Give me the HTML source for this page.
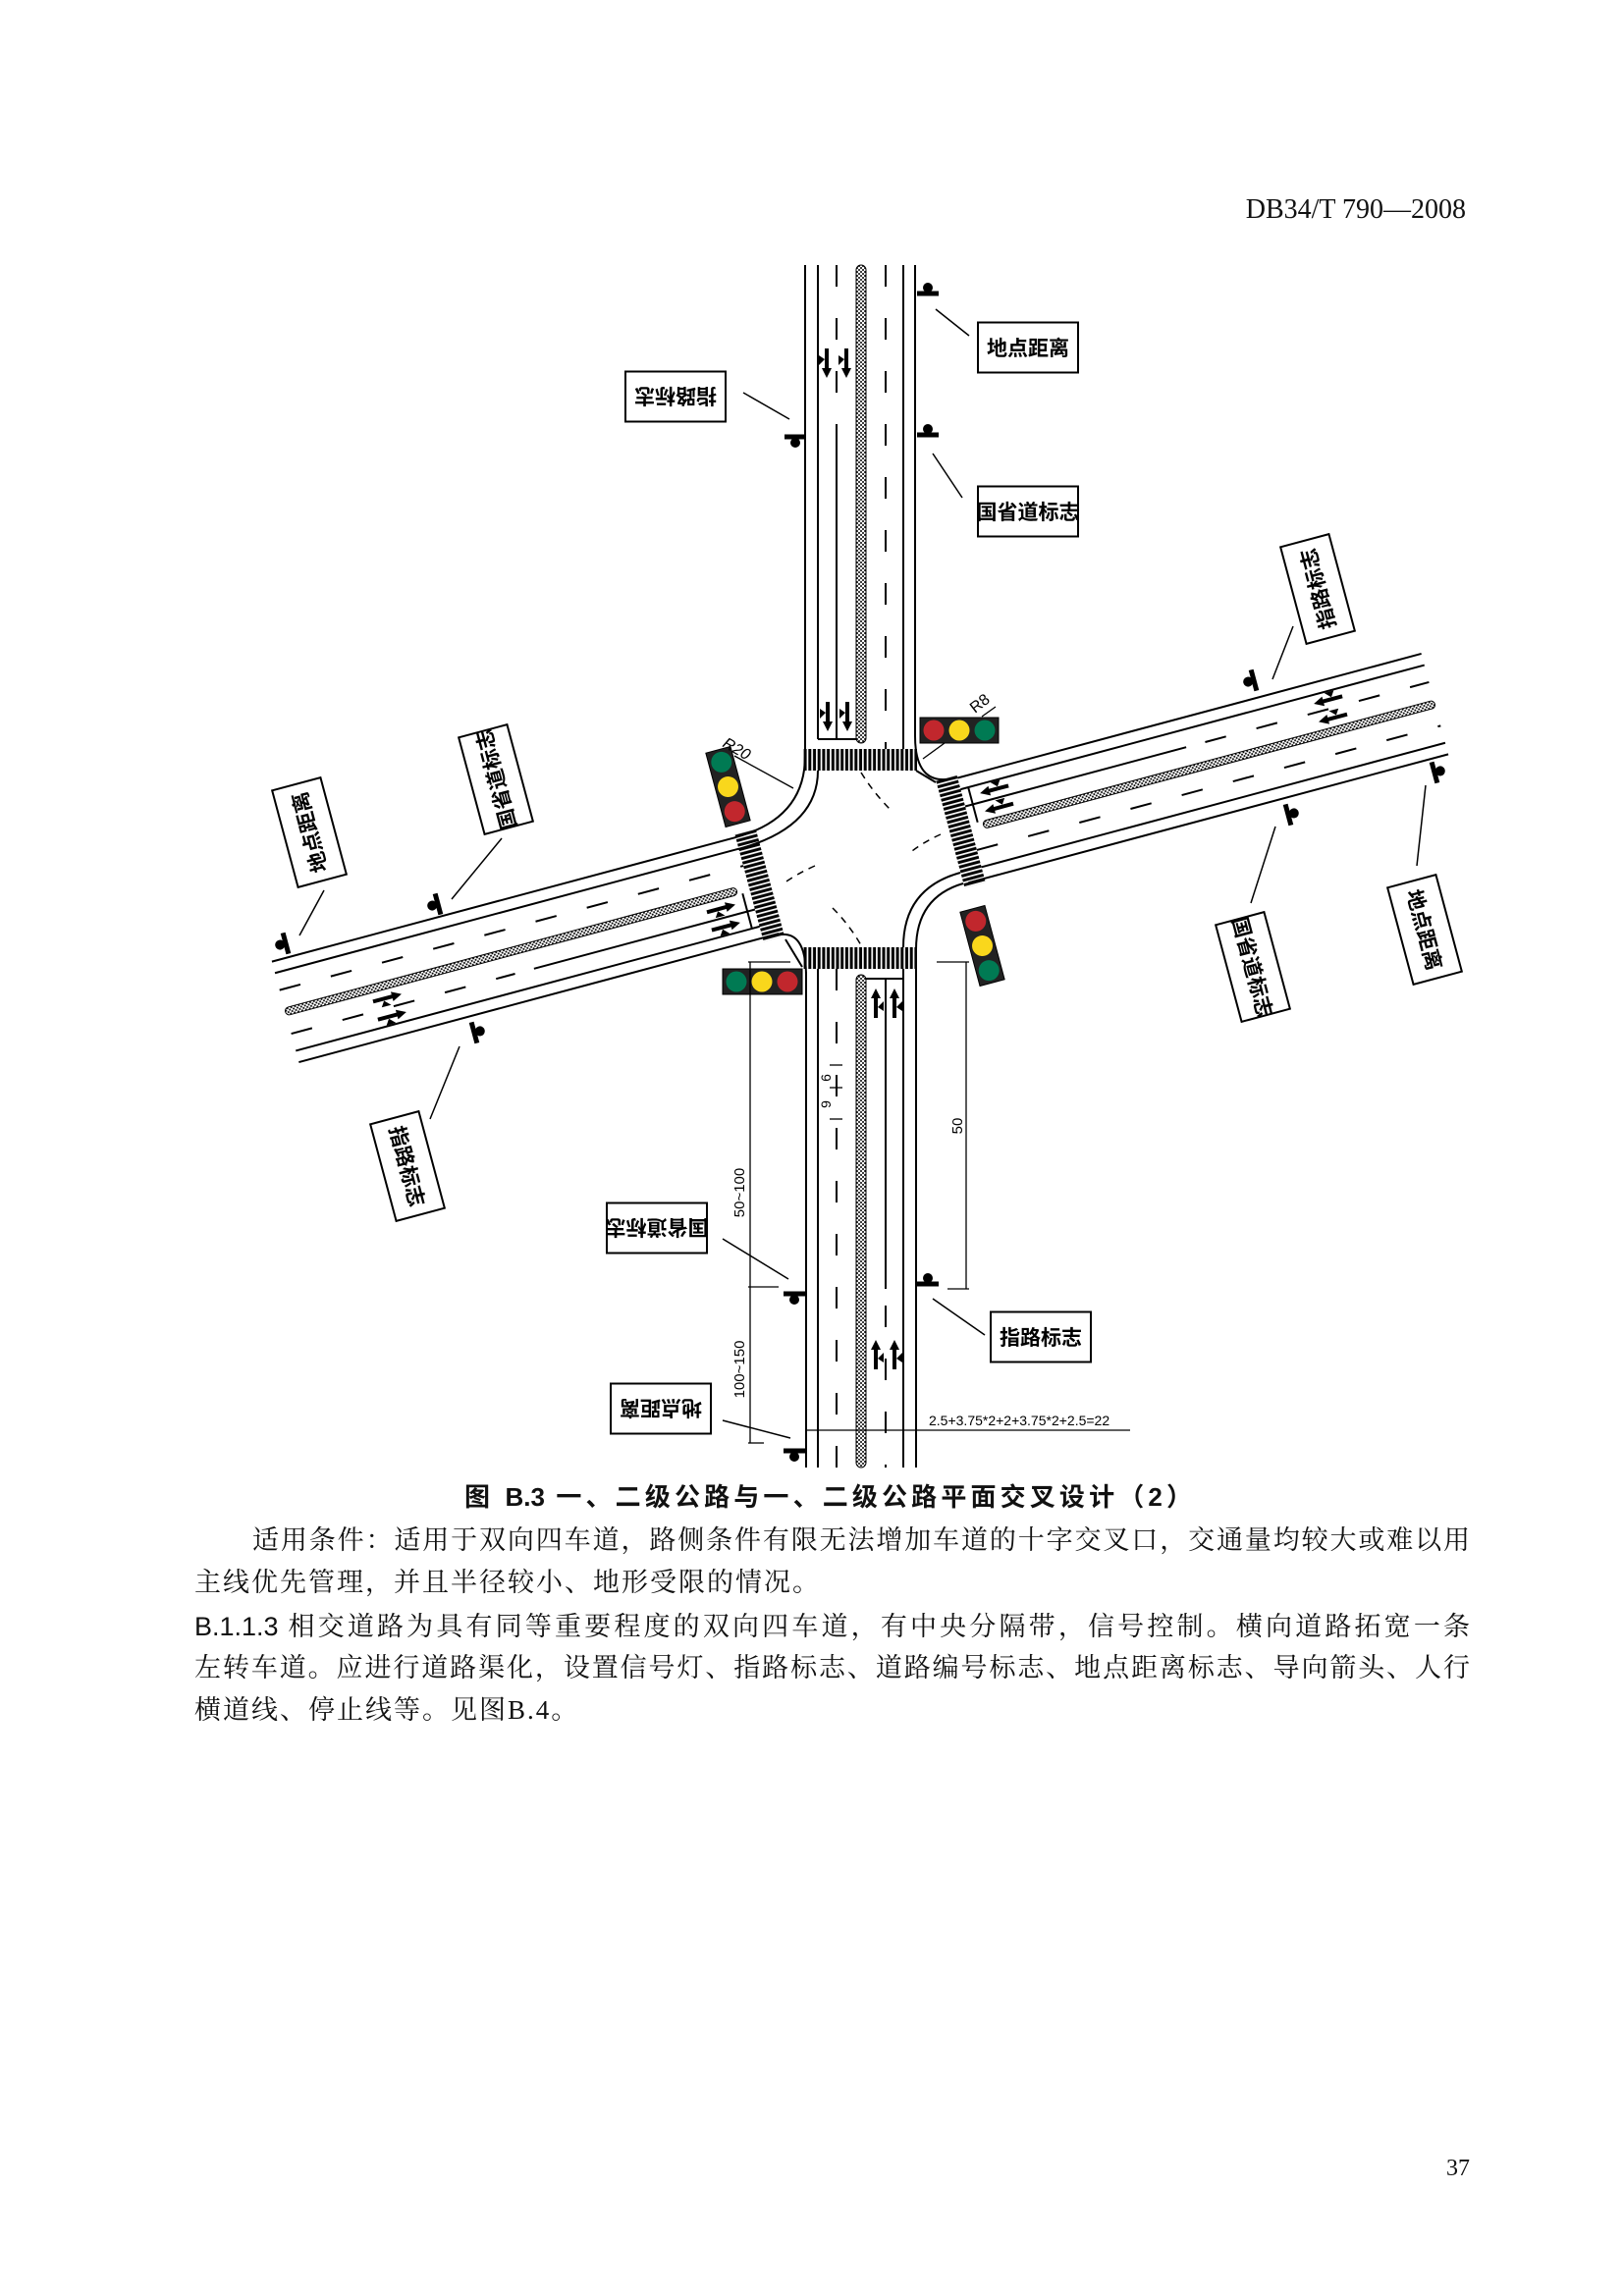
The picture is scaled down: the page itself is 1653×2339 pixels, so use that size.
<!DOCTYPE html>
<html><head><meta charset="utf-8">
<style>
html,body{margin:0;padding:0;background:#fff;}
body{width:1653px;height:2339px;position:relative;overflow:hidden;}
.t{position:absolute;white-space:nowrap;font-family:"Liberation Serif","Noto Serif CJK SC",serif;font-size:27px;line-height:30px;color:#111;}
.j{text-align:justify;text-align-last:justify;}
svg{position:absolute;left:0;top:0;}
</style></head><body>
<svg width="1653" height="2339" viewBox="0 0 1653 2339" xmlns="http://www.w3.org/2000/svg">
<defs>
<pattern id="dots" width="4" height="4" patternUnits="userSpaceOnUse">
<rect width="4" height="4" fill="#fff"/><circle cx="1" cy="1" r="1" fill="#000"/><circle cx="3" cy="3" r="1" fill="#000"/>
</pattern>
<pattern id="cwv" width="4.7" height="30" patternUnits="userSpaceOnUse"><rect x="0.8" width="3" height="30" fill="#000"/></pattern>
<pattern id="cwh" width="30" height="4.7" patternUnits="userSpaceOnUse"><rect y="0.8" width="30" height="3" fill="#000"/></pattern>
<g id="arr"><path d="M0,-15 L-5,-5 L-2,-5 L-2,15 L2,15 L2,-5 L5,-5 Z" fill="#000"/><path d="M2,4 L8,-2 L8,8 Z" fill="#000"/></g>
<g id="post"><rect x="-11" y="-2.5" width="22" height="5" fill="#000"/><circle cx="0" cy="-6" r="5" fill="#000"/></g>
</defs>
<g stroke="#000" stroke-width="2" fill="none">
<line x1="820" y1="270" x2="820" y2="770"/>
<line x1="833" y1="270" x2="833" y2="753"/>
<line x1="852" y1="270" x2="852" y2="437" stroke-dasharray="22 32"/>
<line x1="852" y1="437" x2="852" y2="753"/>
<line x1="902" y1="270" x2="902" y2="763" stroke-dasharray="22 32"/>
<line x1="920" y1="270" x2="920" y2="763"/>
<line x1="932" y1="270" x2="932" y2="750"/>
<line x1="833" y1="753" x2="872" y2="753"/>
<line x1="821" y1="990" x2="821" y2="1495"/>
<line x1="833" y1="987" x2="833" y2="1495"/>
<line x1="852" y1="987" x2="852" y2="1495" stroke-dasharray="22 32"/>
<line x1="902" y1="997" x2="902" y2="1313"/>
<line x1="902" y1="1330" x2="902" y2="1495" stroke-dasharray="22 32"/>
<line x1="920" y1="987" x2="920" y2="1495"/>
<line x1="933" y1="967" x2="933" y2="1495"/>
<line x1="882" y1="997" x2="920" y2="997"/>
<path d="M932,750 Q932,804 975,792"/>
<path d="M820,770 Q820,834 749,853"/>
<path d="M833,785 Q833,843 752,865"/>
<path d="M981,900 Q933,914 933,967"/>
<path d="M978,889 Q920,905 920,965"/>
<path d="M790,953 Q821,945 821,995"/>
<path d="M800,957 L817,985"/>
<path d="M933,785 L953,797"/>
<g stroke-width="1.5" stroke-dasharray="7 6">
<path d="M877,787 Q890,808 907,825"/>
<path d="M958,850 Q940,858 925,870"/>
<path d="M830,882 Q812,890 798,900"/>
<path d="M848,925 Q865,942 877,963"/>
</g>
</g>
<rect x="872" y="270" width="10" height="487" rx="5" fill="url(#dots)" stroke="#000" stroke-width="1"/>
<rect x="872" y="993" width="10" height="502" rx="5" fill="url(#dots)" stroke="#000" stroke-width="1"/>
<rect x="817" y="763" width="117" height="22" fill="url(#cwv)"/>
<rect x="817" y="965" width="117" height="22" fill="url(#cwv)"/>
<g transform="translate(876,874) rotate(-15)">
<g stroke="#000" stroke-width="2" fill="none">
<line x1="117" y1="-53" x2="606" y2="-53"/>
<line x1="117" y1="-41" x2="606" y2="-41"/>
<line x1="117" y1="-23" x2="350" y2="-23"/>
<line x1="370" y1="-23" x2="606" y2="-23" stroke-dasharray="22 32"/>
<line x1="117" y1="23" x2="606" y2="23" stroke-dasharray="22 32"/>
<line x1="117" y1="41" x2="606" y2="41"/>
<line x1="100" y1="53" x2="606" y2="53"/>
<line x1="125" y1="-41" x2="125" y2="-4"/>
<line x1="-606" y1="-53" x2="-117" y2="-53"/>
<line x1="-606" y1="-41" x2="-117" y2="-41"/>
<line x1="-606" y1="-23" x2="-117" y2="-23" stroke-dasharray="22 32"/>
<line x1="-350" y1="23" x2="-117" y2="23"/>
<line x1="-606" y1="23" x2="-370" y2="23" stroke-dasharray="22 32"/>
<line x1="-606" y1="41" x2="-117" y2="41"/>
<line x1="-606" y1="53" x2="-100" y2="53"/>
<line x1="-125" y1="4" x2="-125" y2="41"/>
</g>
<rect x="130" y="-4" width="476" height="8" rx="4" fill="url(#dots)" stroke="#000" stroke-width="1"/>
<rect x="-606" y="-4" width="476" height="8" rx="4" fill="url(#dots)" stroke="#000" stroke-width="1"/>
<rect x="95" y="-57" width="22" height="114" fill="url(#cwh)"/>
<rect x="-117" y="-57" width="22" height="114" fill="url(#cwh)"/>
<use href="#arr" transform="translate(150,-32) rotate(-90)"/>
<use href="#arr" transform="translate(150,-13) rotate(-90)"/>
<use href="#arr" transform="translate(502,-32) rotate(-90)"/>
<use href="#arr" transform="translate(502,-13) rotate(-90)"/>
<use href="#arr" transform="translate(-150,13) rotate(90)"/>
<use href="#arr" transform="translate(-150,32) rotate(90)"/>
<use href="#arr" transform="translate(-502,13) rotate(90)"/>
<use href="#arr" transform="translate(-502,32) rotate(90)"/>
</g>
<use href="#arr" transform="translate(842,370) rotate(180)"/>
<use href="#arr" transform="translate(862,370) rotate(180)"/>
<use href="#arr" transform="translate(843,730) rotate(180)"/>
<use href="#arr" transform="translate(863,730) rotate(180)"/>
<use href="#arr" transform="translate(892,1022)"/>
<use href="#arr" transform="translate(911,1022)"/>
<use href="#arr" transform="translate(892,1380)"/>
<use href="#arr" transform="translate(911,1380)"/>
<g>
<rect x="937" y="731" width="80" height="26" fill="#222" stroke="#000"/>
<circle cx="951" cy="744" r="10.5" fill="#c1272d"/><circle cx="977" cy="744" r="10.5" fill="#f9d71c"/><circle cx="1003" cy="744" r="10.5" fill="#007a53"/>
</g>
<g>
<rect x="736" y="987" width="81" height="26" fill="#222" stroke="#000"/>
<circle cx="750" cy="1000" r="10.5" fill="#007a53"/><circle cx="776" cy="1000" r="10.5" fill="#f9d71c"/><circle cx="802" cy="1000" r="10.5" fill="#c1272d"/>
</g>
<g transform="translate(741.5,801.5) rotate(-15)">
<rect x="-13" y="-39" width="26" height="78" fill="#222" stroke="#000"/>
<circle cx="0" cy="-26" r="10.5" fill="#007a53"/><circle cx="0" cy="0" r="10.5" fill="#f9d71c"/><circle cx="0" cy="26" r="10.5" fill="#c1272d"/>
</g>
<g transform="translate(1000.5,963.5) rotate(-15)">
<rect x="-13" y="-39" width="26" height="78" fill="#222" stroke="#000"/>
<circle cx="0" cy="-26" r="10.5" fill="#c1272d"/><circle cx="0" cy="0" r="10.5" fill="#f9d71c"/><circle cx="0" cy="26" r="10.5" fill="#007a53"/>
</g>
<g stroke="#000" stroke-width="1.3">
<line x1="748" y1="770" x2="808" y2="803"/>
<line x1="962" y1="757" x2="940" y2="773"/>
<line x1="1000" y1="730" x2="1014" y2="720"/>
</g>
<text x="0" y="0" font-family="Liberation Sans,sans-serif" font-size="16" font-style="italic" transform="translate(735,760) rotate(30)">R20</text>
<text x="0" y="0" font-family="Liberation Sans,sans-serif" font-size="16" transform="translate(993,727) rotate(-38)">R8</text>
<use href="#post" transform="translate(945,299)"/>
<use href="#post" transform="translate(945,443)"/>
<use href="#post" transform="translate(810,445) rotate(180)"/>
<use href="#post" transform="translate(1277,693) rotate(-105)"/>
<use href="#post" transform="translate(1312,830) rotate(75)"/>
<use href="#post" transform="translate(1461,787) rotate(75)"/>
<use href="#post" transform="translate(291,961) rotate(-105)"/>
<use href="#post" transform="translate(446,921) rotate(-105)"/>
<use href="#post" transform="translate(483,1052) rotate(75)"/>
<use href="#post" transform="translate(809,1318) rotate(180)"/>
<use href="#post" transform="translate(809,1478) rotate(180)"/>
<use href="#post" transform="translate(945,1308)"/>
<g stroke="#000" stroke-width="1.5">
<line x1="953" y1="315" x2="987" y2="342"/>
<line x1="950" y1="462" x2="980" y2="507"/>
<line x1="757" y1="400" x2="804" y2="427"/>
<line x1="1317" y1="638" x2="1296" y2="692"/>
<line x1="1299" y1="842" x2="1274" y2="920"/>
<line x1="1452" y1="800" x2="1443" y2="882"/>
<line x1="330" y1="907" x2="305" y2="953"/>
<line x1="511" y1="854" x2="460" y2="916"/>
<line x1="468" y1="1066" x2="438" y2="1140"/>
<line x1="736" y1="1262" x2="803" y2="1303"/>
<line x1="736" y1="1447" x2="805" y2="1465"/>
<line x1="950" y1="1323" x2="1003" y2="1360"/>
</g>
<g stroke="#000" stroke-width="1.3">
<line x1="764" y1="980" x2="764" y2="1470"/>
<line x1="984" y1="980" x2="984" y2="1313"/>
<line x1="762" y1="980" x2="805" y2="980"/>
<line x1="954" y1="980" x2="987" y2="980"/>
<line x1="762" y1="1311" x2="793" y2="1311"/>
<line x1="762" y1="1470" x2="778" y2="1470"/>
<line x1="965" y1="1313" x2="987" y2="1313"/>
<line x1="820" y1="1457" x2="1151" y2="1457"/>
<line x1="845" y1="1085" x2="858" y2="1085"/>
<line x1="845" y1="1108" x2="858" y2="1108"/>
<line x1="845" y1="1140" x2="858" y2="1140"/>
</g>
<g font-family="Liberation Sans,sans-serif" font-size="15" fill="#000">
<text transform="translate(758,1215) rotate(-90)" text-anchor="middle">50~100</text>
<text transform="translate(758,1395) rotate(-90)" text-anchor="middle">100~150</text>
<text transform="translate(980,1147) rotate(-90)" text-anchor="middle">50</text>
<text x="946" y="1452" font-size="14">2.5+3.75*2+2+3.75*2+2.5=22</text>
<text transform="translate(846,1098) rotate(-90)" text-anchor="middle" font-size="14">6</text>
<text transform="translate(846,1125) rotate(-90)" text-anchor="middle" font-size="14">9</text>
</g>
<g font-family="Liberation Sans,Noto Sans CJK SC,sans-serif" font-weight="700" font-size="21" text-anchor="middle" fill="#000">
<g transform="translate(1047,354)"><rect x="-51" y="-25.5" width="102" height="51" fill="#fff" stroke="#000" stroke-width="2"/><text y="8">地点距离</text></g>
<g transform="translate(1047,521)"><rect x="-51" y="-25.5" width="102" height="51" fill="#fff" stroke="#000" stroke-width="2"/><text y="8">国省道标志</text></g>
<g transform="translate(688,404) rotate(180)"><rect x="-51" y="-25.5" width="102" height="51" fill="#fff" stroke="#000" stroke-width="2"/><text y="8">指路标志</text></g>
<g transform="translate(1342,600) rotate(-105)"><rect x="-51" y="-25.5" width="102" height="51" fill="#fff" stroke="#000" stroke-width="2"/><text y="8">指路标志</text></g>
<g transform="translate(1276,985) rotate(75)"><rect x="-51" y="-25.5" width="102" height="51" fill="#fff" stroke="#000" stroke-width="2"/><text y="8">国省道标志</text></g>
<g transform="translate(1451,947) rotate(75)"><rect x="-51" y="-25.5" width="102" height="51" fill="#fff" stroke="#000" stroke-width="2"/><text y="8">地点距离</text></g>
<g transform="translate(315,848) rotate(-105)"><rect x="-51" y="-25.5" width="102" height="51" fill="#fff" stroke="#000" stroke-width="2"/><text y="8">地点距离</text></g>
<g transform="translate(505,794) rotate(-105)"><rect x="-51" y="-25.5" width="102" height="51" fill="#fff" stroke="#000" stroke-width="2"/><text y="8">国省道标志</text></g>
<g transform="translate(415,1188) rotate(75)"><rect x="-51" y="-25.5" width="102" height="51" fill="#fff" stroke="#000" stroke-width="2"/><text y="8">指路标志</text></g>
<g transform="translate(669,1251) rotate(180)"><rect x="-51" y="-25.5" width="102" height="51" fill="#fff" stroke="#000" stroke-width="2"/><text y="8">国省道标志</text></g>
<g transform="translate(673,1435) rotate(180)"><rect x="-51" y="-25.5" width="102" height="51" fill="#fff" stroke="#000" stroke-width="2"/><text y="8">地点距离</text></g>
<g transform="translate(1060,1362)"><rect x="-51" y="-25.5" width="102" height="51" fill="#fff" stroke="#000" stroke-width="2"/><text y="8">指路标志</text></g>
</g>
</svg>

<div class="t" style="left:1200px;top:198px;width:293px;text-align:right;font-size:28px;line-height:32px;">DB34/T 790—2008</div>

<div class="t j" style="left:473px;top:1510px;width:741px;font-family:'Liberation Sans','Noto Sans CJK SC',sans-serif;font-weight:700;font-size:26px;">图 B.3 一、二级公路与一、二级公路平面交叉设计（2）</div>

<div class="t j" style="left:257px;top:1554px;width:1240px;">适用条件：适用于双向四车道，路侧条件有限无法增加车道的十字交叉口，交通量均较大或难以用</div>
<div class="t" style="left:198px;top:1597px;letter-spacing:2px;">主线优先管理，并且半径较小、地形受限的情况。</div>
<div class="t j" style="left:198px;top:1642px;width:1299px;"><span style="font-family:'Liberation Sans',sans-serif;">B.1.1.3</span>  相交道路为具有同等重要程度的双向四车道，有中央分隔带，信号控制。横向道路拓宽一条</div>
<div class="t j" style="left:198px;top:1684px;width:1299px;">左转车道。应进行道路渠化，设置信号灯、指路标志、道路编号标志、地点距离标志、导向箭头、人行</div>
<div class="t" style="left:198px;top:1727px;letter-spacing:2px;">横道线、停止线等。见图B.4。</div>

<div class="t" style="left:1440px;top:2194px;width:57px;text-align:right;font-size:24px;">37</div>
</body></html>
